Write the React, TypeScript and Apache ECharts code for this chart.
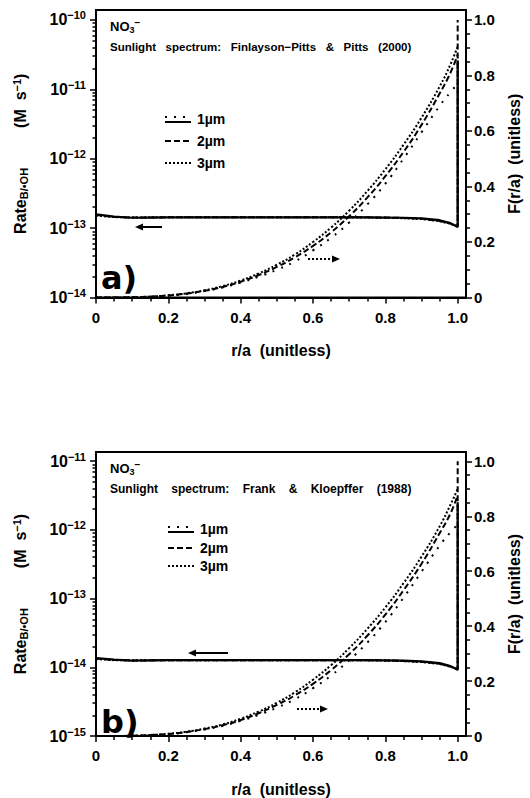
import React, { useEffect, useRef } from "react";
import * as echarts from "echarts";

const FONT = "'Liberation Sans', Arial, Helvetica, sans-serif";

// r/a positions where curves are sampled
const rPos = [0, 0.05, 0.1, 0.15, 0.2, 0.25, 0.3, 0.35, 0.4, 0.45, 0.5, 0.55, 0.6, 0.65, 0.7, 0.75, 0.8, 0.85, 0.9, 0.95, 0.98, 1.0];

// Panel a) rates (M s^-1)
const rateA1 = [1.58e-13, 1.46e-13, 1.41e-13, 1.42e-13, 1.43e-13, 1.43e-13, 1.43e-13, 1.43e-13, 1.43e-13, 1.43e-13, 1.43e-13, 1.43e-13, 1.43e-13, 1.43e-13, 1.43e-13, 1.43e-13, 1.42e-13, 1.41e-13, 1.38e-13, 1.3e-13, 1.18e-13, 1.04e-13];
const rateA2 = [1.55e-13, 1.45e-13, 1.42e-13, 1.42e-13, 1.43e-13, 1.43e-13, 1.43e-13, 1.43e-13, 1.43e-13, 1.43e-13, 1.43e-13, 1.43e-13, 1.43e-13, 1.43e-13, 1.43e-13, 1.43e-13, 1.42e-13, 1.4e-13, 1.36e-13, 1.27e-13, 1.16e-13, 1.05e-13];
const rateA3 = [1.52e-13, 1.44e-13, 1.42e-13, 1.43e-13, 1.43e-13, 1.43e-13, 1.43e-13, 1.43e-13, 1.43e-13, 1.43e-13, 1.43e-13, 1.43e-13, 1.43e-13, 1.43e-13, 1.43e-13, 1.42e-13, 1.41e-13, 1.39e-13, 1.35e-13, 1.26e-13, 1.15e-13, 1.07e-13];
const surfaceA = [2.6e-11, 1.0e-10, 2.6e-11];

// Panel a) F(r/a)
const fracA1 = [0, 0.0001, 0.0008, 0.0028, 0.0068, 0.013, 0.023, 0.036, 0.054, 0.075, 0.1, 0.13, 0.17, 0.215, 0.27, 0.335, 0.41, 0.5, 0.595, 0.69, 0.74, 0.77];
const fracA2 = [0, 0.0001, 0.001, 0.0031, 0.0073, 0.014, 0.024, 0.038, 0.057, 0.081, 0.11, 0.145, 0.186, 0.235, 0.293, 0.36, 0.437, 0.524, 0.622, 0.735, 0.81, 0.875];
const fracA3 = [0, 0.0001, 0.001, 0.0033, 0.0078, 0.015, 0.026, 0.041, 0.061, 0.087, 0.118, 0.155, 0.2, 0.252, 0.313, 0.383, 0.462, 0.55, 0.648, 0.76, 0.84, 0.905];

// Panel b) rates (M s^-1)
const rateB1 = [1.36e-14, 1.29e-14, 1.25e-14, 1.26e-14, 1.27e-14, 1.27e-14, 1.27e-14, 1.27e-14, 1.27e-14, 1.27e-14, 1.27e-14, 1.27e-14, 1.27e-14, 1.27e-14, 1.27e-14, 1.27e-14, 1.26e-14, 1.25e-14, 1.22e-14, 1.15e-14, 1.04e-14, 0.92e-14];
const rateB2 = [1.34e-14, 1.28e-14, 1.26e-14, 1.26e-14, 1.27e-14, 1.27e-14, 1.27e-14, 1.27e-14, 1.27e-14, 1.27e-14, 1.27e-14, 1.27e-14, 1.27e-14, 1.27e-14, 1.27e-14, 1.27e-14, 1.26e-14, 1.24e-14, 1.2e-14, 1.13e-14, 1.03e-14, 0.93e-14];
const rateB3 = [1.32e-14, 1.27e-14, 1.26e-14, 1.27e-14, 1.27e-14, 1.27e-14, 1.27e-14, 1.27e-14, 1.27e-14, 1.27e-14, 1.27e-14, 1.27e-14, 1.27e-14, 1.27e-14, 1.27e-14, 1.26e-14, 1.25e-14, 1.23e-14, 1.19e-14, 1.12e-14, 1.02e-14, 0.95e-14];
const surfaceB = [2.5e-12, 1.0e-11, 2.5e-12];

// Panel b) F(r/a)
const fracB1 = [0, 0.0001, 0.0008, 0.0029, 0.007, 0.0135, 0.024, 0.037, 0.055, 0.077, 0.103, 0.134, 0.174, 0.22, 0.276, 0.34, 0.415, 0.503, 0.598, 0.693, 0.742, 0.77];
const fracB2 = [0, 0.0001, 0.001, 0.0032, 0.0075, 0.0145, 0.025, 0.039, 0.058, 0.083, 0.113, 0.148, 0.19, 0.24, 0.298, 0.365, 0.442, 0.53, 0.627, 0.738, 0.81, 0.877];
const fracB3 = [0, 0.0001, 0.001, 0.0034, 0.008, 0.0155, 0.027, 0.042, 0.063, 0.089, 0.121, 0.159, 0.205, 0.258, 0.32, 0.39, 0.468, 0.556, 0.653, 0.763, 0.842, 0.9];

// Tick labels
const xTicks = [0, 0.2, 0.4, 0.6, 0.8, 1.0];
const xMinorTicks = [0.05, 0.1, 0.15, 0.25, 0.3, 0.35, 0.45, 0.5, 0.55, 0.65, 0.7, 0.75, 0.85, 0.9, 0.95];
const fTicks = [0, 0.2, 0.4, 0.6, 0.8, 1.0];
const fMinorTicks = [0.05, 0.1, 0.15, 0.25, 0.3, 0.35, 0.45, 0.5, 0.55, 0.65, 0.7, 0.75, 0.85, 0.9, 0.95];
const decadesA = [-14, -13, -12, -11, -10];
const decadesB = [-15, -14, -13, -12, -11];
const sizes = ["1\u00b5m", "2\u00b5m", "3\u00b5m"];
const subtitles = [
  "Sunlight   spectrum:   Finlayson\u2212Pitts   &   Pitts   (2000)",
  "Sunlight    spectrum:    Frank    &    Kloepffer    (1988)",
];
const panelTags = ["a)", "b)"];

const rateDash: any[] = ["solid", [6, 3], [2, 2]];
const fracDash: any[] = [[2, 7], [6, 3], [2, 2]];

const panels = [
  { top: 10, height: 287.5, decades: decadesA, logMax: -9.857, fMax: 1.036, rates: [rateA1, rateA2, rateA3], surface: surfaceA, fracs: [fracA1, fracA2, fracA3] },
  { top: 452, height: 286.5, decades: decadesB, logMax: -10.866, fMax: 1.034, rates: [rateB1, rateB2, rateB3], surface: surfaceB, fracs: [fracB1, fracB2, fracB3] },
];

const BLACK = "#000";
const axisLine = { show: true, lineStyle: { color: BLACK, width: 2 } };
const tickLine = { color: BLACK, width: 1.5 };
const labelBase = { color: BLACK, fontFamily: FONT, fontWeight: "bold" as const, fontSize: 15 };

function logMinor(decades: number[]) {
  const out: number[] = [];
  for (let i = 0; i < decades.length - 1; i++) {
    for (let k = 2; k <= 9; k++) out.push(decades[i] + Math.log10(k));
  }
  return out;
}

function buildOption() {
  const grid: any[] = [];
  const xAxis: any[] = [];
  const yAxis: any[] = [];
  const series: any[] = [];
  const graphic: any[] = [];

  panels.forEach((p, pi) => {
    grid.push({ left: 96, width: 375.7, top: p.top, height: p.height, show: true, borderColor: BLACK, borderWidth: 2, backgroundColor: "transparent" });
    xAxis.push({
      type: "value", gridIndex: pi, position: "bottom", min: 0, max: 1.023,
      axisLine, splitLine: { show: false },
      axisTick: { show: true, customValues: xTicks, length: 6, lineStyle: tickLine },
      axisLabel: { ...labelBase, customValues: xTicks, margin: 12, formatter: (v: number) => (v === 0 ? "0" : v.toFixed(1)) },
      name: "r/a  (unitless)", nameLocation: "middle", nameGap: 45,
      nameTextStyle: { ...labelBase, fontSize: 16 },
    });
    xAxis.push({
      type: "value", gridIndex: pi, position: "bottom", min: 0, max: 1.023,
      axisLine: { show: false }, splitLine: { show: false }, axisLabel: { show: false },
      axisTick: { show: true, customValues: xMinorTicks, length: 4, lineStyle: tickLine },
    });
    yAxis.push({
      type: "value", gridIndex: pi, position: "left", min: p.decades[0], max: p.logMax,
      axisLine, splitLine: { show: false },
      axisTick: { show: true, customValues: p.decades, length: 6, lineStyle: tickLine },
      axisLabel: {
        customValues: p.decades, margin: 10,
        formatter: (v: number) => `{b|10}{e|\u2212${Math.round(-v)}}`,
        rich: {
          b: { ...labelBase, fontSize: 16 },
          e: { ...labelBase, fontSize: 11, padding: [0, 0, 9, 0] },
        },
      },
      name: "{t|Rate}{s|B/\u2022OH}{g| }{t|(M  s}{p|\u22121}{t|)}",
      nameLocation: "middle", nameGap: 66, nameRotate: 90,
      nameTextStyle: {
        rich: {
          t: { ...labelBase, fontSize: 16 },
          s: { ...labelBase, fontSize: 11, padding: [7, 0, 0, 0] },
          g: { width: 40 },
          p: { ...labelBase, fontSize: 11, padding: [0, 0, 8, 0] },
        },
      },
    });
    yAxis.push({
      type: "value", gridIndex: pi, position: "left", min: p.decades[0], max: p.logMax,
      axisLine: { show: false }, splitLine: { show: false }, axisLabel: { show: false },
      axisTick: { show: true, customValues: logMinor(p.decades), length: 3.5, lineStyle: tickLine },
    });
    yAxis.push({
      type: "value", gridIndex: pi, position: "right", min: 0, max: p.fMax,
      axisLine, splitLine: { show: false },
      axisTick: { show: true, customValues: fTicks, length: 6, lineStyle: tickLine },
      axisLabel: { ...labelBase, customValues: fTicks, margin: 8, formatter: (v: number) => (v === 0 ? "0" : v.toFixed(1)) },
      name: "F(r/a)  (unitless)", nameLocation: "middle", nameGap: 40, nameRotate: 90,
      nameTextStyle: { ...labelBase, fontSize: 16 },
    });
    yAxis.push({
      type: "value", gridIndex: pi, position: "right", min: 0, max: p.fMax,
      axisLine: { show: false }, splitLine: { show: false }, axisLabel: { show: false },
      axisTick: { show: true, customValues: fMinorTicks, length: 4, lineStyle: tickLine },
    });

    const yLog = pi * 4;
    const yF = pi * 4 + 2;
    p.rates.forEach((arr, si) => {
      const data = rPos.map((x, i) => [x, Math.log10(arr[i])]);
      data.push([1.0, Math.log10(p.surface[si])]);
      series.push({
        type: "line", name: "rate " + sizes[si], xAxisIndex: pi * 2, yAxisIndex: yLog, data,
        symbol: "none", smooth: false, silent: true,
        lineStyle: { color: BLACK, width: si === 0 ? 2.2 : 2, type: rateDash[si] },
      });
    });
    p.fracs.forEach((arr, si) => {
      series.push({
        type: "line", name: "F " + sizes[si], xAxisIndex: pi * 2, yAxisIndex: yF,
        data: rPos.map((x, i) => [x, arr[i]]),
        symbol: "none", smooth: true, silent: true,
        lineStyle: { color: BLACK, width: 2, type: fracDash[si] },
      });
    });

    // annotations
    const t = p.top;
    graphic.push({
      type: "text", x: 110, y: t + 16, style: {
        text: "{a|NO}{b|3}{c|\u2212}", verticalAlign: "middle",
        rich: {
          a: { ...labelBase, fontSize: 13 },
          b: { ...labelBase, fontSize: 9, padding: [7, 0, 0, 0] },
          c: { ...labelBase, fontSize: 10, padding: [0, 0, 8, 0] },
        },
      },
    });
    graphic.push({
      type: "text", x: 110, y: t + 37, style: {
        text: subtitles[pi], fill: BLACK, fontFamily: FONT, fontWeight: "bold",
        fontSize: pi === 0 ? 11.5 : 12, verticalAlign: "middle",
      },
    });
    const legY = pi === 0 ? [t + 109, t + 131, t + 153] : [t + 77, t + 96, t + 114];
    const legX0 = pi === 0 ? 165 : 168;
    sizes.forEach((s, si) => {
      if (si === 0) {
        graphic.push({ type: "line", shape: { x1: legX0, y1: legY[0] + 3, x2: legX0 + 26, y2: legY[0] + 3 }, style: { stroke: BLACK, lineWidth: 2 } });
        graphic.push({ type: "line", shape: { x1: legX0, y1: legY[0] - 2, x2: legX0 + 26, y2: legY[0] - 2 }, style: { stroke: BLACK, lineWidth: 2, lineDash: [2, 7] } });
      } else {
        graphic.push({ type: "line", shape: { x1: legX0, y1: legY[si], x2: legX0 + 26, y2: legY[si] }, style: { stroke: BLACK, lineWidth: 2, lineDash: si === 1 ? [6, 3] : [2, 2] } });
      }
      graphic.push({
        type: "text", x: legX0 + 32, y: legY[si], style: {
          text: s, fill: BLACK, fontFamily: FONT, fontWeight: "bold", fontSize: 14, verticalAlign: "middle",
        },
      });
    });
    // arrows
    const solidArrow = pi === 0 ? { x1: 162, x2: 135, y: 227 } : { x1: 228, x2: 188, y: 653 };
    const dotArrow = pi === 0 ? { x1: 308, x2: 340, y: 259 } : { x1: 297, x2: 328, y: 709 };
    graphic.push({ type: "line", shape: { x1: solidArrow.x1, y1: solidArrow.y, x2: solidArrow.x2 + 5, y2: solidArrow.y }, style: { stroke: BLACK, lineWidth: 2 } });
    graphic.push({ type: "polygon", shape: { points: [[solidArrow.x2, solidArrow.y], [solidArrow.x2 + 8, solidArrow.y - 3.5], [solidArrow.x2 + 8, solidArrow.y + 3.5]] }, style: { fill: BLACK } });
    graphic.push({ type: "line", shape: { x1: dotArrow.x1, y1: dotArrow.y, x2: dotArrow.x2 - 6, y2: dotArrow.y }, style: { stroke: BLACK, lineWidth: 2, lineDash: [2, 2] } });
    graphic.push({ type: "polygon", shape: { points: [[dotArrow.x2, dotArrow.y], [dotArrow.x2 - 8, dotArrow.y - 3.5], [dotArrow.x2 - 8, dotArrow.y + 3.5]] }, style: { fill: BLACK } });
    // panel tag
    graphic.push({
      type: "text", x: 101, y: pi === 0 ? 278 : 722, style: {
        text: panelTags[pi], fill: BLACK, fontFamily: "'DejaVu Sans', sans-serif", fontWeight: "bold", fontSize: 32, verticalAlign: "middle",
      },
    });
  });

  return { animation: false, backgroundColor: "#fff", grid, xAxis, yAxis, series, graphic };
}

export default function App() {
  const ref = useRef<HTMLDivElement>(null);
  useEffect(() => {
    if (!ref.current) return;
    const chart = echarts.init(ref.current, undefined, { renderer: "svg" });
    chart.setOption(buildOption() as any);
    return () => chart.dispose();
  }, []);
  return <div ref={ref} style={{ position: "fixed", left: 0, top: 0, width: 530, height: 798, background: "#fff" }} />;
}
